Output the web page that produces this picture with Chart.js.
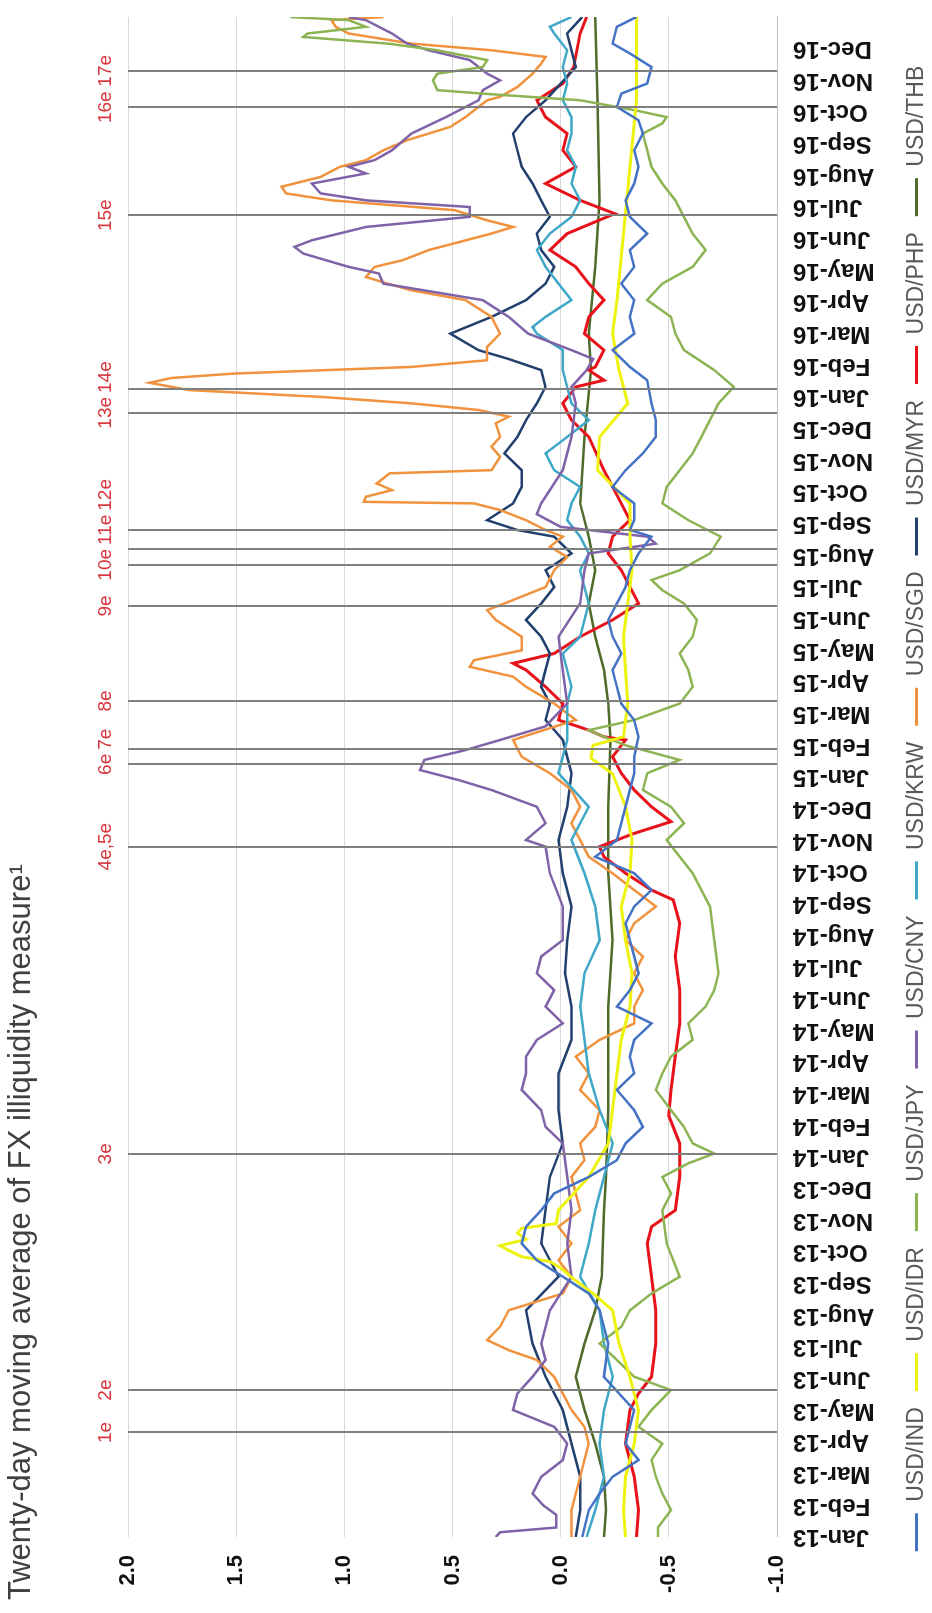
<!DOCTYPE html>
<html><head><meta charset="utf-8">
<script src="https://cdn.jsdelivr.net/npm/chart.js@4.4.1/dist/chart.umd.min.js"></script>
<style>
html,body{margin:0;padding:0;background:#fff;overflow:hidden;width:932px;height:1613px;}
#wrap{position:absolute;left:0;top:0;width:1613px;height:932px;transform-origin:0 0;transform:translateY(1613px) rotate(-90deg);}
canvas{display:block;}
</style></head><body>
<div id="wrap"><canvas id="c" width="1613" height="932"></canvas></div>
<script>
const titleText = 'Twenty-day moving average of FX illiquidity measure\u00B9';
const monthLabels = ['Jan-13','Feb-13','Mar-13','Apr-13','May-13','Jun-13','Jul-13','Aug-13','Sep-13','Oct-13','Nov-13','Dec-13',
 'Jan-14','Feb-14','Mar-14','Apr-14','May-14','Jun-14','Jul-14','Aug-14','Sep-14','Oct-14','Nov-14','Dec-14',
 'Jan-15','Feb-15','Mar-15','Apr-15','May-15','Jun-15','Jul-15','Aug-15','Sep-15','Oct-15','Nov-15','Dec-15',
 'Jan-16','Feb-16','Mar-16','Apr-16','May-16','Jun-16','Jul-16','Aug-16','Sep-16','Oct-16','Nov-16','Dec-16'];
const valueTicks = [-1.0,-0.5,0.0,0.5,1.0,1.5,2.0];
const seriesNames = ['USD/IND','USD/IDR','USD/JPY','USD/CNY','USD/KRW','USD/SGD','USD/MYR','USD/PHP','USD/THB'];
const seriesColors = ['#4472C4','#EEF20F','#8DB453','#7F62A8','#3FA8C8','#F0923E','#22406E','#E8121B','#4E6B2A'];
const eventMonths = [3.3,4.64,12.1,21.8,24.4,24.9,26.4,29.4,30.7,31.2,31.8,35.5,36.25,41.74,45.15,46.3];
const eventLabels = ['1e','2e','3e','4e,5e','6e','7e','8e','9e','10e','11e','12e','13e','14e','15e','16e','17e'];

// [month index since Jan-13, value]
const usdIND = [[0,-0.10],[0.85,-0.13],[1.37,-0.18],[1.9,-0.24],[2.43,-0.36],[2.95,-0.30],[4.01,-0.34],[5.06,-0.20],[6.11,-0.22],[7.16,-0.18],[7.69,-0.13],[8.22,-0.01],[8.74,0.11],[9.27,0.18],[9.8,0.16],[10.32,0.09],[10.85,0.03],[11.37,-0.13],[11.9,-0.26],[12.43,-0.30],[12.95,-0.38],[13.48,-0.34],[14.12,-0.26],[14.64,-0.34],[15.17,-0.32],[15.7,-0.34],[16.22,-0.42],[16.75,-0.26],[17.27,-0.32],[17.8,-0.36],[18.33,-0.34],[18.85,-0.32],[19.38,-0.30],[19.91,-0.34],[20.43,-0.42],[20.96,-0.34],[21.48,-0.16],[22.01,-0.26],[23.06,-0.30],[24.12,-0.34],[24.64,-0.34],[25.27,-0.36],[25.8,-0.34],[26.32,-0.28],[26.85,-0.26],[27.38,-0.24],[27.9,-0.28],[28.43,-0.24],[28.96,-0.22],[29.48,-0.26],[30.0,-0.30],[30.53,-0.32],[31.06,-0.36],[31.59,-0.42],[31.8,-0.32],[32.11,-0.34],[32.64,-0.34],[33.16,-0.24],[33.69,-0.30],[34.22,-0.38],[34.74,-0.44],[35.27,-0.44],[35.8,-0.42],[36.53,-0.40],[36.95,-0.32],[37.48,-0.24],[38.0,-0.34],[38.53,-0.32],[39.06,-0.34],[39.58,-0.28],[40.11,-0.34],[40.64,-0.32],[41.16,-0.40],[41.69,-0.32],[42.21,-0.30],[42.74,-0.34],[43.27,-0.36],[43.79,-0.34],[44.32,-0.38],[44.74,-0.36],[45.16,-0.26],[45.58,-0.28],[45.9,-0.40],[46.42,-0.42],[46.85,-0.32],[47.16,-0.24],[47.69,-0.26],[48.0,-0.35]];
const usdIDR = [[0,-0.30],[0.85,-0.29],[1.9,-0.30],[2.95,-0.34],[4.01,-0.36],[5.06,-0.32],[6.11,-0.27],[7.16,-0.24],[7.69,-0.15],[8.2,-0.05],[8.5,0.0],[8.7,0.05],[8.85,0.18],[9.05,0.24],[9.2,0.28],[9.4,0.16],[9.6,0.20],[9.75,0.18],[9.9,0.02],[10.32,0.01],[11.37,-0.13],[12.43,-0.22],[13.48,-0.24],[14.64,-0.26],[15.7,-0.28],[16.75,-0.32],[17.8,-0.33],[18.85,-0.30],[19.91,-0.28],[20.96,-0.32],[22.01,-0.33],[23.06,-0.30],[24.1,-0.24],[24.6,-0.14],[25.0,-0.15],[25.27,-0.29],[26.32,-0.31],[27.38,-0.30],[28.43,-0.29],[29.48,-0.31],[30.53,-0.33],[31.59,-0.32],[32.64,-0.32],[33.69,-0.17],[34.74,-0.18],[35.8,-0.31],[36.85,-0.27],[38.0,-0.24],[39.06,-0.26],[41.16,-0.29],[43.27,-0.32],[45.37,-0.35],[48.0,-0.35]];
const usdJPY = [[0,-0.45],[0.3,-0.45],[0.85,-0.51],[1.37,-0.47],[1.9,-0.44],[2.43,-0.42],[2.95,-0.47],[3.48,-0.36],[4.01,-0.42],[4.64,-0.51],[5.06,-0.34],[5.59,-0.26],[6.11,-0.18],[6.64,-0.28],[7.16,-0.32],[7.69,-0.42],[8.22,-0.55],[9.27,-0.49],[10.32,-0.47],[10.85,-0.51],[11.37,-0.47],[11.8,-0.59],[12.11,-0.71],[12.43,-0.61],[12.95,-0.57],[13.48,-0.51],[14.12,-0.44],[14.64,-0.47],[15.17,-0.51],[15.7,-0.61],[16.22,-0.59],[16.75,-0.67],[17.27,-0.71],[17.8,-0.73],[18.85,-0.71],[19.91,-0.69],[20.43,-0.65],[20.96,-0.61],[21.48,-0.55],[22.01,-0.49],[22.54,-0.57],[23.06,-0.51],[23.59,-0.38],[24.12,-0.40],[24.54,-0.55],[25.0,-0.30],[25.27,-0.20],[25.48,-0.13],[25.8,-0.34],[26.32,-0.55],[26.85,-0.61],[27.38,-0.59],[27.9,-0.55],[28.43,-0.61],[28.96,-0.63],[29.48,-0.57],[29.9,-0.47],[30.22,-0.42],[30.53,-0.55],[31.06,-0.69],[31.59,-0.74],[32.11,-0.59],[32.64,-0.47],[33.16,-0.49],[33.69,-0.55],[34.22,-0.61],[34.74,-0.65],[35.27,-0.69],[35.8,-0.73],[36.32,-0.80],[36.85,-0.71],[37.48,-0.57],[38.0,-0.53],[38.53,-0.51],[39.06,-0.40],[39.58,-0.47],[40.11,-0.61],[40.64,-0.67],[41.16,-0.61],[41.69,-0.57],[42.21,-0.53],[42.74,-0.47],[43.27,-0.42],[43.79,-0.40],[44.32,-0.38],[44.64,-0.47],[44.84,-0.49],[45.06,-0.34],[45.37,-0.09],[45.58,0.36],[45.69,0.57],[46.0,0.59],[46.21,0.57],[46.42,0.36],[46.64,0.34],[46.95,0.57],[47.16,0.80],[47.37,1.19],[47.48,1.17],[47.69,0.90],[47.9,0.98],[48.0,1.25]];
const usdCNY = [[0,0.30],[0.15,0.28],[0.3,0.02],[0.7,0.02],[1.0,0.08],[1.37,0.13],[1.9,0.09],[2.43,-0.01],[2.95,-0.03],[3.48,0.03],[4.01,0.22],[4.53,0.20],[5.06,0.13],[5.59,0.07],[6.11,0.09],[7.16,0.05],[8.22,-0.05],[9.27,-0.03],[10.32,-0.05],[11.37,-0.03],[12.43,-0.01],[12.95,0.07],[13.48,0.09],[14.12,0.18],[14.64,0.16],[15.17,0.16],[15.7,0.11],[16.22,-0.01],[16.75,0.07],[17.27,0.03],[17.8,0.11],[18.33,0.09],[18.85,-0.01],[19.91,-0.01],[20.96,0.05],[21.8,0.07],[22.01,0.16],[22.54,0.07],[23.06,0.11],[23.59,0.32],[23.9,0.47],[24.22,0.65],[24.54,0.63],[24.85,0.44],[25.17,0.28],[25.6,0.07],[26.32,-0.03],[27.38,-0.01],[28.43,0.01],[29.48,-0.09],[30.53,-0.11],[31.06,-0.13],[31.37,-0.44],[31.59,-0.40],[31.9,0.0],[32.3,0.11],[32.64,0.09],[33.69,-0.01],[34.74,-0.05],[35.8,-0.07],[36.32,-0.05],[36.85,-0.12],[37.2,-0.15],[37.48,-0.05],[38.0,0.15],[38.53,0.24],[39.06,0.36],[39.58,0.82],[39.9,0.84],[40.11,0.98],[40.53,1.19],[40.74,1.23],[40.95,1.15],[41.37,0.90],[41.69,0.42],[42.0,0.42],[42.21,0.90],[42.43,1.11],[42.74,1.15],[43.06,0.90],[43.27,0.98],[43.48,0.86],[43.79,0.78],[44.32,0.69],[44.84,0.53],[45.37,0.38],[45.69,0.36],[46.0,0.28],[46.21,0.34],[46.64,0.42],[46.95,0.61],[47.16,0.71],[47.48,0.78],[47.9,0.90],[48.0,0.98]];
const usdKRW = [[0,-0.12],[0.85,-0.16],[1.9,-0.20],[2.95,-0.18],[4.01,-0.20],[5.06,-0.24],[6.11,-0.20],[7.16,-0.18],[8.22,-0.09],[9.27,-0.13],[10.32,-0.16],[11.37,-0.20],[12.43,-0.24],[13.48,-0.18],[14.64,-0.13],[15.7,-0.11],[16.75,-0.09],[17.8,-0.11],[18.85,-0.18],[19.91,-0.16],[20.96,-0.11],[22.01,-0.05],[23.06,-0.13],[24.12,0.01],[25.17,-0.03],[26.32,-0.03],[26.85,-0.05],[27.38,-0.03],[27.9,-0.01],[28.43,-0.09],[29.48,-0.13],[30.53,-0.09],[31.06,-0.13],[31.59,-0.09],[32.11,-0.03],[32.64,-0.05],[33.16,-0.09],[33.69,0.03],[34.22,0.07],[34.74,-0.03],[35.27,-0.13],[35.8,-0.05],[36.32,-0.03],[36.85,-0.01],[37.48,-0.01],[38.0,0.11],[38.21,0.13],[38.53,0.07],[39.06,-0.05],[39.58,0.01],[40.11,0.07],[40.64,0.11],[41.16,0.05],[41.69,-0.05],[42.21,-0.09],[42.74,-0.05],[43.27,-0.07],[43.79,-0.03],[44.32,-0.05],[44.84,-0.05],[45.37,-0.01],[45.9,-0.03],[46.42,-0.01],[46.95,-0.03],[47.48,0.03],[47.69,0.05],[48.0,-0.05]];
const usdSGD = [[0,-0.05],[0.85,-0.05],[1.9,-0.09],[2.95,-0.13],[3.48,-0.11],[4.01,-0.05],[4.53,-0.01],[5.06,0.03],[5.59,0.11],[5.9,0.24],[6.22,0.34],[6.64,0.28],[7.16,0.24],[7.69,-0.01],[8.22,-0.05],[8.74,0.01],[9.27,-0.05],[9.8,0.01],[10.32,-0.09],[10.85,-0.07],[11.37,-0.05],[11.9,-0.11],[12.43,-0.09],[12.95,-0.16],[13.48,-0.18],[14.12,-0.09],[14.64,-0.13],[15.17,-0.07],[15.7,-0.18],[16.22,-0.34],[16.75,-0.34],[17.27,-0.38],[17.8,-0.34],[18.33,-0.38],[18.85,-0.30],[19.38,-0.34],[19.91,-0.44],[20.43,-0.34],[20.96,-0.24],[21.48,-0.13],[22.01,-0.09],[22.54,-0.05],[23.06,-0.09],[23.59,-0.05],[24.12,0.05],[24.64,0.18],[25.17,0.22],[25.5,0.07],[25.8,-0.07],[26.32,0.03],[26.85,0.16],[27.17,0.22],[27.48,0.42],[27.69,0.40],[28.0,0.18],[28.43,0.18],[28.96,0.30],[29.27,0.34],[29.48,0.26],[30.0,0.07],[30.53,0.03],[30.95,-0.03],[31.27,0.05],[31.59,-0.01],[31.8,0.07],[32.11,0.16],[32.43,0.28],[32.64,0.40],[32.69,0.91],[32.85,0.90],[33.06,0.78],[33.27,0.85],[33.59,0.79],[33.69,0.32],[34.11,0.28],[34.43,0.32],[34.74,0.28],[35.17,0.30],[35.38,0.24],[35.59,0.38],[35.8,0.69],[36.0,1.10],[36.22,1.72],[36.45,1.90],[36.6,1.80],[36.74,1.51],[36.95,0.69],[37.16,0.34],[37.58,0.34],[38.0,0.28],[38.53,0.32],[39.06,0.44],[39.37,0.69],[39.58,0.80],[39.79,0.90],[40.11,0.86],[40.32,0.73],[40.64,0.61],[41.16,0.32],[41.37,0.22],[41.58,0.34],[41.9,0.49],[42.21,1.06],[42.43,1.27],[42.64,1.29],[42.95,1.11],[43.27,1.02],[43.48,0.90],[43.79,0.82],[44.11,0.71],[44.53,0.51],[44.84,0.44],[45.16,0.38],[45.37,0.34],[45.48,0.28],[45.79,0.20],[46.21,0.13],[46.53,0.09],[46.74,0.07],[46.95,0.32],[47.16,0.69],[47.48,0.98],[47.69,1.04],[47.9,1.06],[48.0,0.82]];
const usdMYR = [[0,-0.07],[0.85,-0.09],[1.9,-0.09],[2.95,-0.05],[4.01,-0.01],[5.06,0.07],[6.11,0.13],[7.16,0.16],[8.22,0.01],[9.27,0.09],[10.32,0.07],[11.37,0.05],[12.43,-0.01],[13.48,0.01],[14.64,0.01],[15.7,-0.05],[16.75,-0.05],[17.8,-0.02],[18.85,-0.03],[19.91,-0.05],[20.96,-0.01],[22.01,0.01],[23.06,-0.03],[24.12,-0.05],[25.17,-0.01],[25.8,0.07],[26.32,0.05],[26.85,0.09],[27.38,0.07],[27.9,0.05],[28.43,0.09],[28.96,0.16],[29.48,0.09],[30.0,0.03],[30.53,0.07],[31.06,-0.05],[31.59,0.03],[31.8,0.20],[32.11,0.34],[32.64,0.22],[33.16,0.18],[33.69,0.18],[34.22,0.26],[34.74,0.20],[35.27,0.16],[35.8,0.11],[36.32,0.07],[36.85,0.09],[37.2,0.24],[37.48,0.38],[38.0,0.51],[38.53,0.32],[39.06,0.16],[39.58,0.07],[40.11,0.03],[40.64,0.09],[41.16,0.11],[41.69,0.05],[42.21,0.09],[42.74,0.13],[43.27,0.18],[43.79,0.20],[44.32,0.22],[44.84,0.16],[45.37,0.07],[46.42,-0.07],[47.48,-0.03],[48.0,-0.10]];
const usdPHP = [[0,-0.35],[0.85,-0.36],[1.9,-0.34],[2.95,-0.30],[4.01,-0.32],[4.53,-0.36],[5.06,-0.42],[6.11,-0.44],[7.16,-0.44],[8.22,-0.42],[9.27,-0.40],[9.8,-0.42],[10.32,-0.53],[11.37,-0.55],[12.43,-0.55],[13.3,-0.50],[14.12,-0.51],[15.17,-0.53],[16.22,-0.55],[17.27,-0.55],[18.33,-0.53],[19.38,-0.55],[20.12,-0.52],[20.43,-0.42],[20.96,-0.30],[21.48,-0.20],[21.8,-0.18],[22.22,-0.34],[22.59,-0.51],[23.06,-0.42],[23.59,-0.34],[24.12,-0.28],[24.64,-0.24],[25.17,-0.30],[25.27,-0.20],[25.48,-0.13],[25.8,0.01],[26.32,-0.01],[26.85,0.07],[27.38,0.16],[27.59,0.22],[27.9,0.03],[28.43,-0.09],[28.96,-0.24],[29.48,-0.36],[30.53,-0.28],[31.06,-0.22],[31.59,-0.24],[32.11,-0.32],[32.64,-0.28],[33.69,-0.20],[34.74,-0.13],[35.27,-0.05],[35.8,-0.01],[36.32,-0.07],[36.53,-0.20],[36.85,-0.13],[36.95,-0.16],[37.48,-0.20],[38.0,-0.11],[38.53,-0.13],[39.06,-0.20],[39.58,-0.13],[40.11,-0.07],[40.64,0.05],[41.16,-0.03],[41.79,-0.25],[42.21,-0.09],[42.74,0.07],[43.27,-0.07],[43.79,-0.01],[44.32,-0.03],[44.84,0.07],[45.37,0.11],[45.9,-0.01],[46.42,-0.06],[47.48,-0.09],[48.0,-0.12]];
const usdTHB = [[0,-0.20],[0.85,-0.21],[1.9,-0.20],[2.95,-0.16],[4.01,-0.11],[5.06,-0.07],[6.11,-0.11],[7.16,-0.16],[8.22,-0.19],[10.32,-0.20],[11.37,-0.21],[13.48,-0.22],[14.64,-0.22],[16.75,-0.22],[18.85,-0.24],[20.96,-0.22],[23.06,-0.22],[25.17,-0.23],[26.32,-0.22],[27.38,-0.20],[28.43,-0.16],[29.48,-0.13],[30.53,-0.16],[31.59,-0.13],[32.64,-0.09],[34.74,-0.11],[36.85,-0.14],[38.0,-0.13],[40.11,-0.16],[42.21,-0.18],[45.37,-0.17],[48.0,-0.16]];

const seriesData = [usdIND, usdIDR, usdJPY, usdCNY, usdKRW, usdSGD, usdMYR, usdPHP, usdTHB];
const seriesWidths = [2.5, 3, 2.5, 2.5, 2.5, 2.5, 2.5, 3, 2.5];

const FONT = '"Liberation Sans", Arial, sans-serif';
const toXY = arr => arr.slice().sort((a, b) => a[0] - b[0]).map(p => ({x: p[0], y: p[1]}));

const eventPlugin = {
  id: 'eventLines',
  afterDatasetsDraw(chart) {
    const {ctx, chartArea, scales: {x}} = chart;
    ctx.save();
    ctx.strokeStyle = '#7f7f7f';
    ctx.lineWidth = 2;
    eventMonths.forEach(m => {
      const px = Math.round(x.getPixelForValue(m));
      ctx.beginPath();
      ctx.moveTo(px, chartArea.top);
      ctx.lineTo(px, chartArea.bottom);
      ctx.stroke();
    });
    ctx.font = '19px ' + FONT;
    ctx.fillStyle = '#d8343c';
    ctx.textBaseline = 'middle';
    ctx.textAlign = 'left';
    let prevRight = -Infinity;
    eventLabels.forEach((t, i) => {
      const w = ctx.measureText(t).width;
      let left = x.getPixelForValue(eventMonths[i]) - w / 2;
      if (left < prevRight + 4) left = prevRight + 4;
      ctx.fillText(t, left, chartArea.top - 22);
      prevRight = left + w;
    });
    ctx.restore();
  }
};

new Chart(document.getElementById('c'), {
  type: 'line',
  data: {
    datasets: seriesNames.map((name, i) => ({
      label: name,
      data: toXY(seriesData[i]),
      borderColor: seriesColors[i],
      backgroundColor: seriesColors[i],
      borderWidth: seriesWidths[i],
      pointRadius: 0,
      tension: 0,
      fill: false
    }))
  },
  options: {
    responsive: false,
    animation: false,
    devicePixelRatio: 1,
    layout: {padding: {left: 13, right: 17, top: 0, bottom: -6}},
    plugins: {
      title: {display: true, text: titleText, align: 'start', color: '#404040',
        font: {family: FONT, size: 31, weight: 'normal'}, padding: {top: 3, bottom: 87.8}},
      legend: {position: 'bottom',
        labels: {boxWidth: 38, boxHeight: 3, padding: 16, color: '#595959', font: {family: FONT, size: 23},
          generateLabels: chart => chart.data.datasets.map((ds, i) => ({
            text: ds.label, fillStyle: ds.borderColor, strokeStyle: ds.borderColor, lineWidth: 0,
            hidden: false, datasetIndex: i, fontColor: '#595959'}))}},
      tooltip: {enabled: false}
    },
    scales: {
      x: {type: 'linear', min: 0, max: 48,
        afterBuildTicks: s => { s.ticks = monthLabels.map((_, i) => ({value: i})); },
        afterFit: s => { s.height = 112; },
        ticks: {autoSkip: false, maxRotation: 90, minRotation: 90, padding: 16, color: '#111',
          font: {family: FONT, size: 24, weight: 'bold'}, callback: v => monthLabels[v]},
        grid: {display: false, drawTicks: false},
        border: {display: true, color: '#bfbfbf', width: 1}},
      y: {min: -1, max: 2,
        afterBuildTicks: s => { s.ticks = valueTicks.map(v => ({value: v})); },
        afterFit: s => { s.width = 63; },
        ticks: {padding: 18, color: '#111', font: {family: FONT, size: 22, weight: 'bold'},
          callback: v => Number(v).toFixed(1)},
        grid: {color: '#d9d9d9', lineWidth: 1, drawTicks: false},
        border: {display: false}}
    }
  },
  plugins: [eventPlugin]
});
</script></body></html>
